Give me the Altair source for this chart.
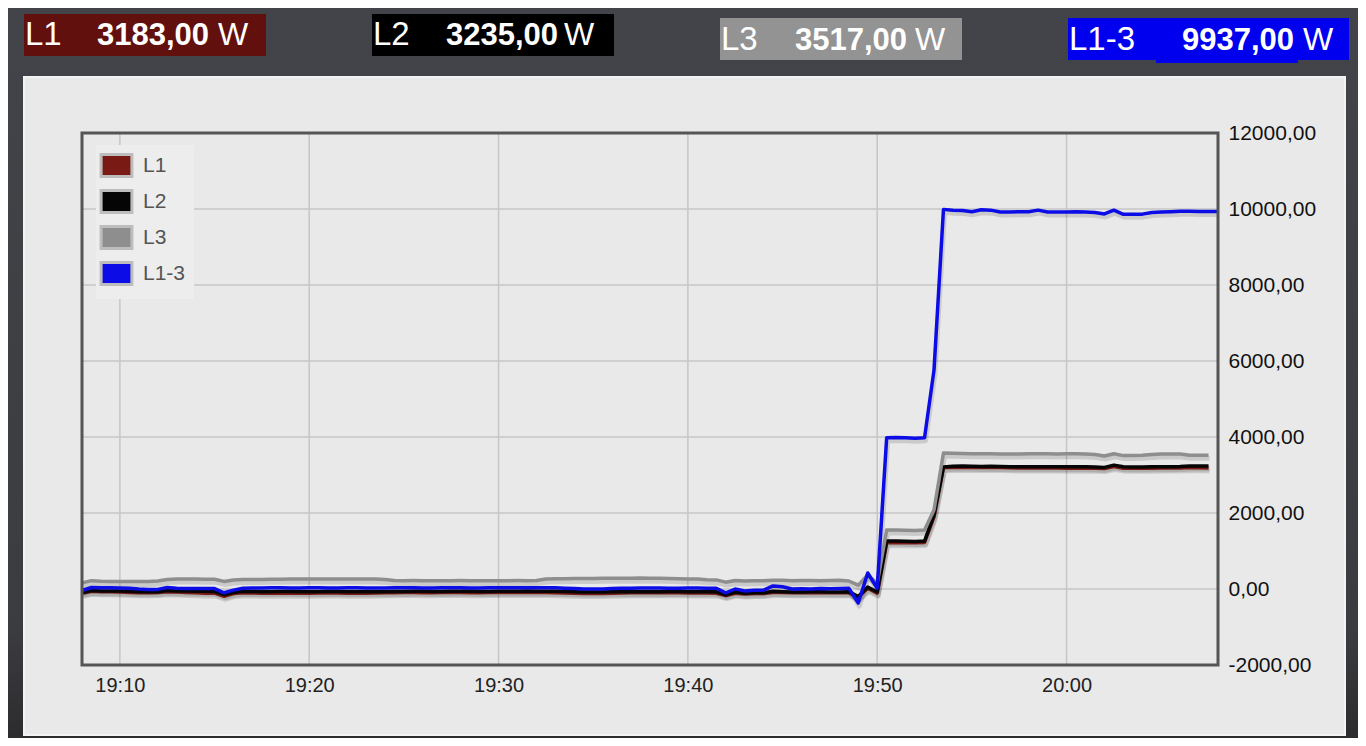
import altair as alt
import numpy as np
import pandas as pd

# ---------------- data ----------------
START = "2024-01-01T19:08:00"
STEP_SECONDS = 30
SERIES = ["L1", "L2", "L3", "L1-3"]
COLORS = ["#7a1a14", "#050505", "#8e8e8e", "#0c0ce6"]

L1 = [-110, -60, -70, -75, -80, -90, -100, -100, -95, -70,
      -80, -90, -100, -110, -110, -190, -120, -100, -105, -110,
      -110, -110, -115, -110, -110, -105, -105, -105, -110, -110,
      -110, -105, -100, -100, -95, -95, -100, -100, -95, -95,
      -95, -100, -100, -95, -95, -95, -90, -95, -95, -95,
      -100, -105, -110, -120, -120, -120, -115, -105, -100, -100,
      -100, -100, -100, -100, -105, -105, -105, -110, -170, -110,
      -130, -120, -120, -90, -90, -100, -100, -100, -100, -100,
      -100, -100, -220, 20, -110, 1220, 1225, 1220, 1215, 1225,
      1900, 3200, 3200, 3205, 3200, 3195, 3200, 3195, 3190, 3185,
      3185, 3185, 3190, 3185, 3180, 3180, 3180, 3175, 3170, 3225,
      3180, 3175, 3175, 3180, 3185, 3185, 3185, 3195, 3190, 3183]

L2 = [-90, -40, -50, -50, -55, -60, -70, -75, -70, -40,
      -50, -55, -60, -60, -65, -150, -90, -60, -65, -70,
      -70, -65, -65, -70, -70, -70, -65, -65, -70, -70,
      -70, -75, -70, -65, -65, -60, -60, -65, -65, -60,
      -60, -60, -65, -65, -60, -60, -60, -55, -60, -60,
      -60, -65, -70, -80, -80, -80, -75, -70, -70, -70,
      -70, -70, -65, -65, -70, -70, -70, -75, -150, -80,
      -110, -100, -100, -60, -70, -80, -80, -75, -75, -80,
      -80, -70, -200, 50, -80, 1260, 1260, 1255, 1250, 1260,
      1950, 3210, 3230, 3235, 3230, 3225, 3230, 3225, 3220, 3215,
      3215, 3215, 3220, 3215, 3215, 3215, 3215, 3210, 3200, 3260,
      3215, 3210, 3210, 3215, 3220, 3220, 3225, 3240, 3240, 3235]

L3 = [160, 220, 205, 200, 200, 200, 195, 200, 210, 250,
      260, 260, 260, 255, 255, 200, 235, 250, 250, 250,
      255, 255, 260, 260, 260, 265, 265, 265, 265, 265,
      265, 265, 250, 225, 220, 222, 220, 218, 220, 220,
      222, 220, 220, 218, 220, 220, 222, 220, 225, 265,
      270, 270, 275, 275, 275, 280, 280, 280, 285, 290,
      285, 280, 275, 270, 265, 260, 245, 240, 180, 225,
      210, 215, 220, 230, 230, 220, 225, 225, 220, 225,
      230, 210, 100, 370, 150, 1550, 1550, 1545, 1540, 1550,
      2080, 3580, 3570, 3565, 3560, 3560, 3560, 3555, 3555, 3555,
      3560, 3560, 3560, 3555, 3560, 3560, 3555, 3540, 3500, 3560,
      3510, 3510, 3520, 3540, 3550, 3550, 3550, 3520, 3520, 3517]

L1_3 = [-40, 40, 30, 30, 25, 20, 0, -10, -10, 40,
        20, 15, 10, 15, 10, -100, -30, 20, 25, 25,
        30, 30, 25, 25, 30, 30, 25, 25, 30, 30,
        25, 25, 25, 30, 30, 30, 25, 25, 30, 30,
        30, 25, 25, 30, 30, 35, 35, 35, 35, 35,
        30, 20, 10, 0, 0, 0, 10, 20, 20, 25,
        25, 25, 20, 20, 25, 25, 20, 20, -100, 0,
        -50, -30, -30, 80, 60, 0, 5, 0, 10, 5,
        10, 20, -370, 420, 20, 3980, 3990, 3980, 3970, 3980,
        5760, 9990, 9970, 9960, 9930, 9980, 9970, 9920, 9920, 9930,
        9930, 9970, 9920, 9920, 9920, 9925, 9920, 9910, 9870, 9970,
        9860, 9860, 9865, 9910, 9920, 9930, 9940, 9940, 9935, 9935,
        9937]

Y_TICKS = [-2000, 0, 2000, 4000, 6000, 8000, 10000, 12000]
X_TICKS = ["19:10", "19:20", "19:30", "19:40", "19:50", "20:00"]
X_DOMAIN = ["19:08", "20:08"]
HEADER_VALUES = [3183.00, 3235.00, 3517.00, 9937.00]

# ---------------- tables ----------------
DAY = "2024-01-01T"
rows = []
for name, vals in zip(SERIES, [L1, L2, L3, L1_3]):
    t = pd.Timestamp(START) + pd.to_timedelta(np.arange(len(vals)) * STEP_SECONDS, unit="s")
    for ti, v in zip(t, vals):
        rows.append({"t": ti.strftime("%Y-%m-%dT%H:%M:%S"), "series": name, "W": v})
df = pd.DataFrame(rows)

xgrid = pd.DataFrame({"t": [DAY + s + ":00" for s in X_TICKS]})
ygrid = pd.DataFrame({"W": Y_TICKS})
ONE = pd.DataFrame({"k": [0]})

FONT = "Liberation Sans"
W_PLOT, H_PLOT = 1136, 532
OX, OY = 82, 133  # page position of the plot origin


def px(x):
    return x - OX


def py(y):
    return y - OY


def tdate(s):
    h, m = s.split(":")
    return alt.DateTime(year=2024, month=1, date=1, hours=int(h), minutes=int(m))


xscale = alt.Scale(domain=[tdate(X_DOMAIN[0]), tdate(X_DOMAIN[1])])
yscale = alt.Scale(domain=[Y_TICKS[0], Y_TICKS[-1]], nice=False)

XAXIS = alt.Axis(values=[tdate(s) for s in X_TICKS], format="%H:%M", title=None,
                 grid=False, ticks=False, tickSize=0, domain=False, zindex=5,
                 labelFont=FONT, labelFontSize=20, labelColor="#222222",
                 labelPadding=10, labelFlush=False)
YAXIS = alt.Axis(orient="right", values=Y_TICKS, title=None, grid=False,
                 ticks=False, tickSize=0, domain=False, zindex=5,
                 labelExpr="datum.value + ',00'",
                 labelFont=FONT, labelFontSize=21, labelColor="#111111",
                 labelPadding=10, labelAlign="left", labelFlush=False)
X = alt.X("t:T", scale=xscale, axis=XAXIS)
Y = alt.Y("W:Q", scale=yscale, axis=YAXIS)


def rect(x, x2, y, y2, **kw):
    return alt.Chart(ONE).mark_rect(**kw).encode(
        x=alt.value(px(x)), x2=alt.value(px(x2)), y=alt.value(py(y)), y2=alt.value(py(y2))
    )


layers = []

# page background (dark, slightly darker to the bottom)
layers.append(rect(8, 1358, 8, 738, color=alt.LinearGradient(
    gradient="linear", x1=0, x2=0, y1=0, y2=1,
    stops=[alt.GradientStop(color="#434449", offset=0),
           alt.GradientStop(color="#3b3c40", offset=0.85),
           alt.GradientStop(color="#2c2c2e", offset=1)])))
# light panel
layers.append(rect(24, 1345, 77, 735, fill="#e9e9e9", stroke="#f3f3f3", strokeWidth=2))

# grid lines
layers.append(alt.Chart(xgrid).mark_rule(color="#c6c6c6", strokeWidth=1.5).encode(x=X))
layers.append(alt.Chart(ygrid).mark_rule(color="#c6c6c6", strokeWidth=1.5).encode(y=Y))

# line shadows
layers.append(alt.Chart(df).mark_line(color="#000000", strokeWidth=5, opacity=0.13,
                                      xOffset=1, yOffset=3, strokeJoin="round").encode(
    x=X, y=Y, detail="series:N"))

# lines (stroke channel; its scale lists the series in reverse so its
# disabled legend is not merged with the colour legend below)
layers.append(alt.Chart(df).mark_line(strokeWidth=3.5, strokeJoin="round").encode(
    x=X, y=Y,
    stroke=alt.Stroke("series:N", scale=alt.Scale(domain=SERIES[::-1], range=COLORS[::-1]),
                      legend=None)))

# legend carrier (points placed off the canvas, filled legend symbols)
legend_df = pd.DataFrame({"series": SERIES})
layers.append(alt.Chart(legend_df).mark_square(size=100).encode(
    x=alt.value(-2000), y=alt.value(-2000),
    color=alt.Color("series:N", scale=alt.Scale(domain=SERIES, range=COLORS), legend=alt.Legend(
        title=None, orient="none", legendX=14, legendY=12, padding=8, zindex=6,
        symbolType="M-1.4,-1H1.4V1H-1.4Z", symbolSize=484,
        symbolStrokeColor="#bdbdbd", symbolStrokeWidth=3, symbolOpacity=1,
        labelFont=FONT, labelFontSize=21, labelColor="#555555",
        labelOffset=14, rowPadding=1, fillColor="#ededed"))))

# plot frame
layers.append(rect(OX, OX + W_PLOT, OY, OY + H_PLOT, fillOpacity=0,
                   stroke="#555555", strokeWidth=3))

# header boxes
HEADER = [
    # box x, x2, y, y2, fill, label x, number x, W x, baseline
    (24, 266, 14, 56, "#62100d", 25, 97, 218, 44.5),
    (372, 614, 14, 56, "#000000", 373, 446, 564, 44.5),
    (720, 962, 18, 60, "#939393", 721, 795, 915, 49.5),
    (1068, 1349, 18, 60, "#0000ee", 1069, 1182, 1303, 49.5),
]
for name, val, (bx, bx2, by, by2, fill, lx, nx, wx, bl) in zip(SERIES, HEADER_VALUES, HEADER):
    layers.append(rect(bx, bx2, by, by2, fill=fill))
    if name == "L1-3":
        layers.append(rect(1156, 1298, 59, 63, fill=fill))
    hdf = pd.DataFrame({"label": [name], "value": [f"{val:.2f}".replace(".", ",")], "unit": ["W"]})
    base = alt.Chart(hdf)
    layers.append(base.mark_text(align="left", baseline="alphabetic", font=FONT, fontSize=33,
                                 color="white").encode(
        x=alt.value(px(lx)), y=alt.value(py(bl)), text="label:N"))
    layers.append(base.mark_text(align="left", baseline="alphabetic", font=FONT, fontSize=31,
                                 fontWeight="bold", color="white").encode(
        x=alt.value(px(nx)), y=alt.value(py(bl)), text="value:N"))
    layers.append(base.mark_text(align="left", baseline="alphabetic", font=FONT, fontSize=32,
                                 color="white").encode(
        x=alt.value(px(wx)), y=alt.value(py(bl)), text="unit:N"))

chart = alt.layer(*layers).properties(
    width=W_PLOT, height=H_PLOT,
    autosize=alt.AutoSizeParams(type="none"),
    padding={"left": OX - 8, "top": OY - 8, "right": 1350 - (OX - 8) - W_PLOT,
             "bottom": 730 - (OY - 8) - H_PLOT},
    background="#404146",
).configure_view(strokeWidth=0)

chart.save("out.html", embed_options={"renderer": "svg", "actions": False})
